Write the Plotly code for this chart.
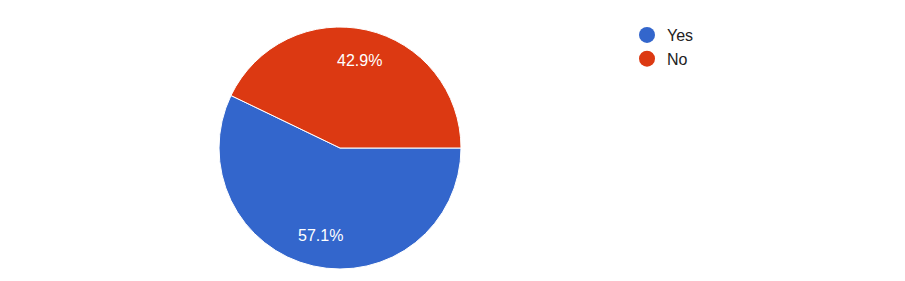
import math
import plotly.graph_objects as go

labels = ["Yes", "No"]
values = [4, 3]
colors = ["#3366CC", "#DC3912"]

W, H = 905, 281
cx, cy, r = 340, 148, 121

fig = go.Figure()
fig.add_trace(go.Pie(
    labels=labels, values=values, sort=False, direction="clockwise", rotation=90,
    marker=dict(colors=colors, line=dict(color="white", width=1)),
    textinfo="none", hoverinfo="label+percent", showlegend=False,
    domain=dict(x=[(cx - r) / W, (cx + r) / W], y=[(H - cy - r) / H, (H - cy + r) / H]),
))

# percentage labels along slice mid-angles
total = sum(values)
start = 90.0
annotations = []
for lab, v in zip(labels, values):
    frac = v / total
    mid = start + frac * 360 / 2
    start += frac * 360
    th = math.radians(mid)
    px = cx + 0.74 * r * math.sin(th)
    py = cy - 0.74 * r * math.cos(th)
    annotations.append(dict(x=px / W, y=1 - py / H, xref="paper", yref="paper",
                            xanchor="center", yanchor="middle",
                            text=f"{frac*100:.1f}%", showarrow=False,
                            font=dict(family="Arial, Liberation Sans", size=16, color="white")))

for lab, c in zip(labels, colors):
    fig.add_trace(go.Scatter(x=[None], y=[None], mode="markers", name=lab,
                             marker=dict(symbol="circle", size=16, color=c)))

fig.update_layout(
    width=W, height=H, margin=dict(l=0, r=0, t=0, b=0),
    paper_bgcolor="white", plot_bgcolor="white",
    xaxis=dict(visible=False), yaxis=dict(visible=False),
    annotations=annotations,
    legend=dict(x=627 / W, y=1 - 18 / H, xanchor="left", yanchor="top",
                font=dict(family="Arial, Liberation Sans", size=16, color="#222222"),
                itemwidth=30, tracegroupgap=0, bgcolor="rgba(0,0,0,0)"),
)
fig.write_html("out.html")
